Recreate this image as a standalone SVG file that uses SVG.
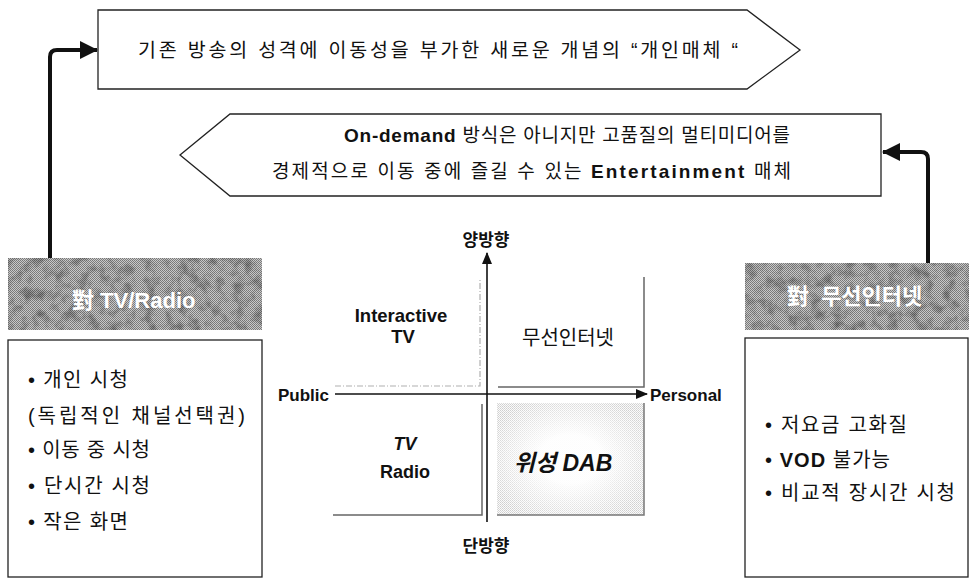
<svg xmlns="http://www.w3.org/2000/svg" width="969" height="584" viewBox="0 0 969 584">
<style>
.kr{font-family:"Liberation Sans","Noto Sans CJK KR",sans-serif;fill:#111}
.b{font-weight:bold}
.box{fill:#fff;stroke:#222;stroke-width:1.3}
.hdrtxt{font-family:"Liberation Sans","Noto Sans CJK KR",sans-serif;font-weight:bold;fill:#fff;font-size:22px}
.conn{fill:none;stroke:#111;stroke-width:4;stroke-linejoin:round}
.axis{fill:none;stroke:#111;stroke-width:1.6}
</style>
<defs>
<pattern id="dither" width="2" height="2" patternUnits="userSpaceOnUse">
<rect width="2" height="2" fill="#c9c9c9"/>
<rect width="1" height="1" fill="#787878"/>
<rect x="1" y="1" width="1" height="1" fill="#7e7e7e"/>
</pattern>
<pattern id="ditherL" width="2" height="2" patternUnits="userSpaceOnUse">
<rect width="2" height="2" fill="#fbfbfb"/>
<rect width="1" height="1" fill="#cfcfcf"/>
<rect x="1" y="1" width="1" height="1" fill="#dadada"/>
</pattern>
<filter id="blot" x="0" y="0" width="100%" height="100%">
<feTurbulence type="fractalNoise" baseFrequency="0.09" numOctaves="3" seed="5"/>
<feColorMatrix type="matrix" values="0 0 0 0 0  0 0 0 0 0  0 0 0 0 0  0 0 0 -2.2 1.25"/>
</filter>
<radialGradient id="fade" cx="0.5" cy="0.5" r="0.6">
<stop offset="0.35" stop-color="#fff" stop-opacity="0.95"/>
<stop offset="1" stop-color="#fff" stop-opacity="0"/>
</radialGradient>
<marker id="ah" markerUnits="userSpaceOnUse" viewBox="0 0 18 18" markerWidth="18" markerHeight="18" refX="17" refY="9" orient="auto">
<path d="M0,0 L18,9 L0,18 z" fill="#111"/>
</marker>
<marker id="ax" markerUnits="userSpaceOnUse" viewBox="0 0 12 12" markerWidth="12" markerHeight="12" refX="11" refY="6" orient="auto">
<path d="M0,1 L12,6 L0,11 z" fill="#111"/>
</marker>
</defs>
<rect width="969" height="584" fill="#fff"/>

<g id="banner-top">
<polygon class="box" points="98,10 747,10 800,50 747,89 98,89"/>
<text class="kr" x="138" y="57" font-size="19.5" textLength="600" lengthAdjust="spacing">기존 방송의 성격에 이동성을 부가한 새로운 개념의 “개인매체 “</text>
</g>

<g id="banner-second">
<polygon class="box" points="230,114 881,114 881,196 230,196 180,155"/>
<text class="kr" x="344" y="142" font-size="19" textLength="446" lengthAdjust="spacing"><tspan class="b">On-demand</tspan> 방식은 아니지만 고품질의 멀티미디어를</text>
<text class="kr" x="272" y="178" font-size="19" textLength="519" lengthAdjust="spacing">경제적으로 이동 중에 즐길 수 있는 <tspan class="b">Entertainment</tspan> 매체</text>
</g>

<g id="connectors">
<path class="conn" d="M50,258 V57 Q50,50 57,50 H97" marker-end="url(#ah)"/>
<path class="conn" d="M928,263 V159 Q928,152 921,152 H883" marker-end="url(#ah)"/>
</g>

<g id="header-left">
<rect x="8" y="258" width="254" height="72" fill="url(#dither)"/>
<rect x="8" y="258" width="254" height="72" filter="url(#blot)" opacity="0.35"/>
<text class="hdrtxt" x="72" y="308">對 TV/Radio</text>
</g>

<g id="box-left">
<rect class="box" x="8" y="340" width="254" height="237"/>
<text class="kr" x="28" y="387" font-size="20" textLength="100" lengthAdjust="spacing">• 개인 시청</text>
<text class="kr" x="28" y="423" font-size="20" textLength="217" lengthAdjust="spacing">(독립적인 채널선택권)</text>
<text class="kr" x="28" y="457" font-size="20" textLength="122" lengthAdjust="spacing">• 이동 중 시청</text>
<text class="kr" x="28" y="493" font-size="20" textLength="122" lengthAdjust="spacing">• 단시간 시청</text>
<text class="kr" x="28" y="529" font-size="20" textLength="100" lengthAdjust="spacing">• 작은 화면</text>
</g>

<g id="header-right">
<rect x="745" y="263" width="224" height="67" fill="url(#dither)"/>
<rect x="745" y="263" width="224" height="67" filter="url(#blot)" opacity="0.35"/>
<text class="hdrtxt" x="787" y="304">對 <tspan dx="6">무선인터넷</tspan></text>
</g>

<g id="box-right">
<rect class="box" x="745" y="338" width="223" height="239"/>
<text class="kr" x="765" y="432" font-size="20" textLength="142" lengthAdjust="spacing">• 저요금 고화질</text>
<text class="kr" x="765" y="467" font-size="20" textLength="125" lengthAdjust="spacing">• <tspan class="b">VOD</tspan> 불가능</text>
<text class="kr" x="765" y="500" font-size="20" textLength="190" lengthAdjust="spacing">• 비교적 장시간 시청</text>
</g>

<g id="quadrant">
<g id="q-top-left">
<path d="M335,386 H480 V280" fill="none" stroke="#b0b0b0" stroke-width="1.2" stroke-dasharray="6,2,1,2"/>
<text class="kr b" x="401" y="322" font-size="18.5" text-anchor="middle">Interactive</text>
<text class="kr b" x="403" y="343" font-size="18.5" text-anchor="middle">TV</text>
</g>
<g id="q-top-right">
<path d="M498,387 H644 V277" fill="none" stroke="#666" stroke-width="1.5"/>
<text class="kr" x="568" y="345" font-size="20" text-anchor="middle">무선인터넷</text>
</g>
<g id="q-bottom-left">
<path d="M333,515 H482 V404" fill="none" stroke="#666" stroke-width="1.5"/>
<text class="kr b" x="405" y="450" font-size="18" font-style="italic" text-anchor="middle">TV</text>
<text class="kr b" x="405" y="478" font-size="18" text-anchor="middle">Radio</text>
</g>
<g id="q-bottom-right">
<rect x="497" y="403" width="147" height="112" fill="url(#ditherL)"/>
<rect x="497" y="403" width="147" height="112" fill="url(#fade)"/>
<path d="M497,515 H644 V403" fill="none" stroke="#777" stroke-width="1.5"/>
<text class="kr b" x="563" y="471" font-size="23" font-style="italic" text-anchor="middle">위성 DAB</text>
</g>
<g id="axes">
<path class="axis" d="M487,522 V253" marker-end="url(#ax)"/>
<path class="axis" d="M335,394 H647" marker-end="url(#ax)"/>
<text class="kr b" x="486" y="246" font-size="17" text-anchor="middle">양방향</text>
<text class="kr b" x="486" y="552" font-size="17" text-anchor="middle">단방향</text>
<text class="kr b" x="329" y="401" font-size="17" text-anchor="end">Public</text>
<text class="kr b" x="650" y="401" font-size="17">Personal</text>
</g>
</g>
</svg>
